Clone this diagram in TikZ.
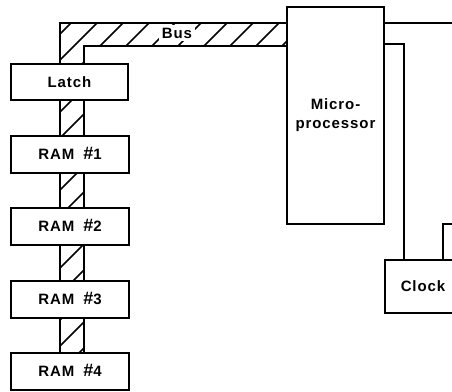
\documentclass[tikz,border=0pt]{standalone}
\usepackage{fontspec}
\setmainfont{Liberation Sans}[LetterSpace=6]
\newcommand{\bignum}{\smash{\fontsize{18}{19}\selectfont\#}}
\begin{document}
\begin{tikzpicture}[x=1pt,y=-1pt,line width=2pt,
  lbl/.style={font=\fontsize{15}{19}\selectfont\bfseries},
  box/.style={draw,fill=white,line width=2pt,minimum width=118pt,minimum height=37pt,inner sep=0pt,lbl},
  hatch/.style={line width=1.6pt}]
\useasboundingbox (0,0) rectangle (452,391);
\clip (0,0) rectangle (452,391);
% bus hatching
\begin{scope}
  \clip (60,23) -- (287,23) -- (287,46) -- (84,46) -- (84,353) -- (60,353) -- cycle;
  \foreach \c in {68,94,...,700} \draw[hatch] (\c-400,400) -- (\c,0);
\end{scope}
\draw (287,23) -- (60,23) -- (60,353);
\draw (287,46) -- (84,46) -- (84,353);
\node[lbl,fill=white,inner sep=3pt] (buslbl) at (177,33) {Bus};
% boxes
\node[box,minimum width=117pt,minimum height=36pt] (latch) at (69.5,82) {Latch};
\node[box] (ram1) at (70,154.5) {RAM\hspace{9pt}\bignum1};
\node[box] (ram2) at (70,226.5) {RAM\hspace{9pt}\bignum2};
\node[box] (ram3) at (70,299) {RAM\hspace{9pt}\bignum3};
\node[box] (ram4) at (70,371.5) {RAM\hspace{9pt}\bignum4};
\node[box,minimum width=97pt,minimum height=217pt,align=center] (cpu) at (335.5,115.5) {Micro-\\processor};
\node[box,minimum width=76pt,minimum height=53pt] (clock) at (423,286.5) {Clock};
% connectors
\coordinate (r1) at (452,23);
\coordinate (k1) at (404,44);
\coordinate (k3) at (443,224);
\coordinate (k2) at (452,224);
\draw (cpu.east |- r1) -- (r1);
\draw (cpu.east |- k1) -- (k1) -- (k1 |- clock.north);
\draw (k3 |- clock.north) -- (k3) -- (k2);
\end{tikzpicture}
\end{document}
